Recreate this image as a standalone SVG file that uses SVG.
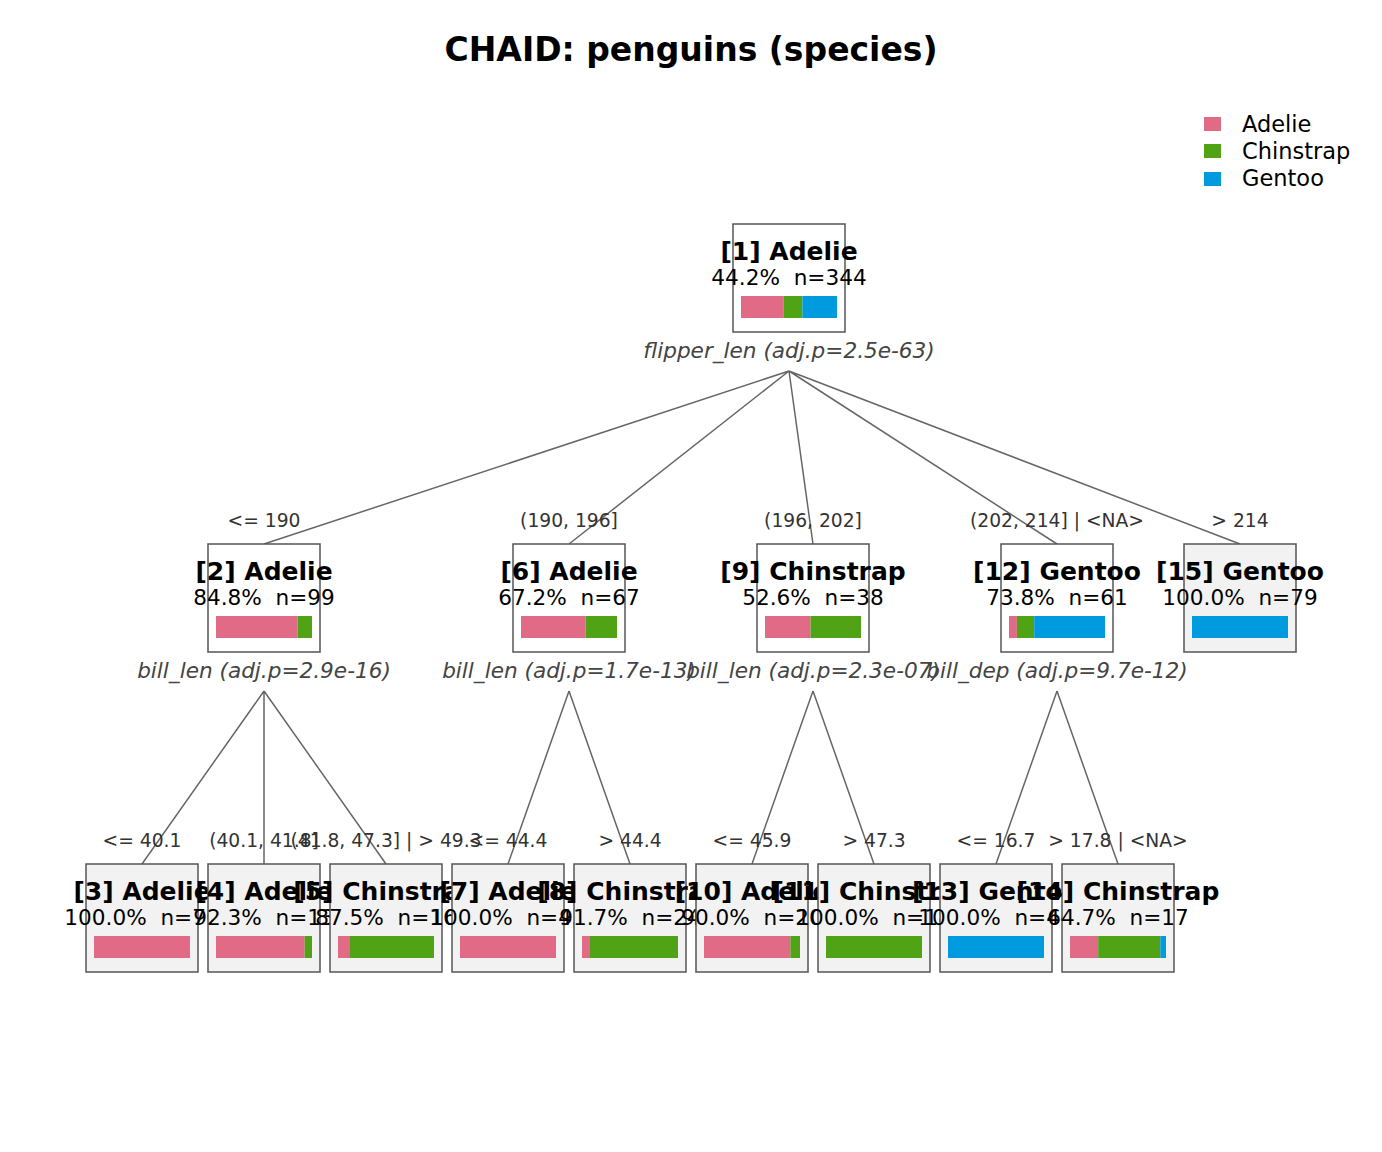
<svg xmlns="http://www.w3.org/2000/svg" width="1382" height="1152" viewBox="0 0 1382 1152">
<style>
text{font-family:"DejaVu Sans","Liberation Sans",sans-serif}
.ttl{font-size:33px;font-weight:bold;fill:#000;text-anchor:middle}
.nt{font-size:25px;font-weight:bold;fill:#000;text-anchor:middle}
.ns{font-size:21.6px;fill:#000;text-anchor:middle;white-space:pre}
.sp{font-size:21.6px;font-style:italic;fill:#444;text-anchor:middle}
.el{font-size:18.7px;fill:#333;text-anchor:middle}
.lg{font-size:22.5px;fill:#000}
.inner{fill:#fff;stroke:#555;stroke-width:1.5}
.term{fill:#f2f2f2;stroke:#555;stroke-width:1.5}
.a{fill:#E16A86}.c{fill:#50A315}.g{fill:#009ADE}
.edge{stroke:#666;stroke-width:1.5;fill:none}
</style>
<rect width="1382" height="1152" fill="#fff"/>
<text class="ttl" x="691" y="61">CHAID: penguins (species)</text>
<g id="legend">
<rect class="a" x="1204" y="117" width="17" height="14"/>
<text class="lg" x="1242" y="132">Adelie</text>
<rect class="c" x="1204" y="144" width="17" height="14"/>
<text class="lg" x="1242" y="159">Chinstrap</text>
<rect class="g" x="1204" y="172" width="17" height="14"/>
<text class="lg" x="1242" y="186">Gentoo</text>
</g>
<g id="connectors">
<path class="edge" d="M789,371L264,544M789,371L569,544M789,371L813,544M789,371L1057,544M789,371L1240,544"/>
<path class="edge" d="M264,691L142,864M264,691L264,864M264,691L386,864"/>
<path class="edge" d="M569,691L508,864M569,691L630,864"/>
<path class="edge" d="M813,691L752,864M813,691L874,864"/>
<path class="edge" d="M1057,691L996,864M1057,691L1118,864"/>
<text class="el" x="264" y="527">&lt;= 190</text>
<text class="el" x="569" y="527">(190, 196]</text>
<text class="el" x="813" y="527">(196, 202]</text>
<text class="el" x="1057" y="527">(202, 214] | &lt;NA&gt;</text>
<text class="el" x="1240" y="527">&gt; 214</text>
<text class="el" x="142" y="847">&lt;= 40.1</text>
<text class="el" x="264" y="847">(40.1, 41.8]</text>
<text class="el" x="386" y="847">(41.8, 47.3] | &gt; 49.3</text>
<text class="el" x="508" y="847">&lt;= 44.4</text>
<text class="el" x="630" y="847">&gt; 44.4</text>
<text class="el" x="752" y="847">&lt;= 45.9</text>
<text class="el" x="874" y="847">&gt; 47.3</text>
<text class="el" x="996" y="847">&lt;= 16.7</text>
<text class="el" x="1118" y="847">&gt; 17.8 | &lt;NA&gt;</text>
</g>
<g id="node1">
<rect class="inner" x="733" y="224" width="112" height="108"/>
<text class="nt" x="789" y="260">[1] Adelie</text>
<text class="ns" x="789" y="285">44.2%  n=344</text>
<rect class="a" x="741" y="296" width="42.4" height="22"/><rect class="c" x="783.4" y="296" width="19" height="22"/><rect class="g" x="802.4" y="296" width="34.6" height="22"/>
<text class="sp" x="789" y="358">flipper_len (adj.p=2.5e-63)</text>
</g>
<g id="node2">
<rect class="inner" x="208" y="544" width="112" height="108"/>
<text class="nt" x="264" y="580">[2] Adelie</text>
<text class="ns" x="264" y="605">84.8%  n=99</text>
<rect class="a" x="216" y="616" width="81.5" height="22"/><rect class="c" x="297.5" y="616" width="14.5" height="22"/>
<text class="sp" x="264" y="678">bill_len (adj.p=2.9e-16)</text>
</g>
<g id="node6">
<rect class="inner" x="513" y="544" width="112" height="108"/>
<text class="nt" x="569" y="580">[6] Adelie</text>
<text class="ns" x="569" y="605">67.2%  n=67</text>
<rect class="a" x="521" y="616" width="64.5" height="22"/><rect class="c" x="585.5" y="616" width="31.5" height="22"/>
<text class="sp" x="569" y="678">bill_len (adj.p=1.7e-13)</text>
</g>
<g id="node9">
<rect class="inner" x="757" y="544" width="112" height="108"/>
<text class="nt" x="813" y="580">[9] Chinstrap</text>
<text class="ns" x="813" y="605">52.6%  n=38</text>
<rect class="a" x="765" y="616" width="45.5" height="22"/><rect class="c" x="810.5" y="616" width="50.5" height="22"/>
<text class="sp" x="813" y="678">bill_len (adj.p=2.3e-07)</text>
</g>
<g id="node12">
<rect class="inner" x="1001" y="544" width="112" height="108"/>
<text class="nt" x="1057" y="580">[12] Gentoo</text>
<text class="ns" x="1057" y="605">73.8%  n=61</text>
<rect class="a" x="1009" y="616" width="7.9" height="22"/><rect class="c" x="1016.9" y="616" width="17.3" height="22"/><rect class="g" x="1034.2" y="616" width="70.8" height="22"/>
<text class="sp" x="1057" y="678">bill_dep (adj.p=9.7e-12)</text>
</g>
<g id="node15">
<rect class="term" x="1184" y="544" width="112" height="108"/>
<text class="nt" x="1240" y="580">[15] Gentoo</text>
<text class="ns" x="1240" y="605">100.0%  n=79</text>
<rect class="g" x="1192" y="616" width="96" height="22"/>
</g>
<g id="node3">
<rect class="term" x="86" y="864" width="112" height="108"/>
<text class="nt" x="142" y="900">[3] Adelie</text>
<text class="ns" x="142" y="925">100.0%  n=70</text>
<rect class="a" x="94" y="936" width="96" height="22"/>
</g>
<g id="node4">
<rect class="term" x="208" y="864" width="112" height="108"/>
<text class="nt" x="264" y="900">[4] Adelie</text>
<text class="ns" x="264" y="925">92.3%  n=13</text>
<rect class="a" x="216" y="936" width="88.6" height="22"/><rect class="c" x="304.6" y="936" width="7.4" height="22"/>
</g>
<g id="node5">
<rect class="term" x="330" y="864" width="112" height="108"/>
<text class="nt" x="386" y="900">[5] Chinstrap</text>
<text class="ns" x="386" y="925">87.5%  n=16</text>
<rect class="a" x="338" y="936" width="12" height="22"/><rect class="c" x="350" y="936" width="84" height="22"/>
</g>
<g id="node7">
<rect class="term" x="452" y="864" width="112" height="108"/>
<text class="nt" x="508" y="900">[7] Adelie</text>
<text class="ns" x="508" y="925">100.0%  n=43</text>
<rect class="a" x="460" y="936" width="96" height="22"/>
</g>
<g id="node8">
<rect class="term" x="574" y="864" width="112" height="108"/>
<text class="nt" x="630" y="900">[8] Chinstrap</text>
<text class="ns" x="630" y="925">91.7%  n=24</text>
<rect class="a" x="582" y="936" width="8" height="22"/><rect class="c" x="590" y="936" width="88" height="22"/>
</g>
<g id="node10">
<rect class="term" x="696" y="864" width="112" height="108"/>
<text class="nt" x="752" y="900">[10] Adelie</text>
<text class="ns" x="752" y="925">90.0%  n=20</text>
<rect class="a" x="704" y="936" width="86.4" height="22"/><rect class="c" x="790.4" y="936" width="9.6" height="22"/>
</g>
<g id="node11">
<rect class="term" x="818" y="864" width="112" height="108"/>
<text class="nt" x="874" y="900">[11] Chinstrap</text>
<text class="ns" x="874" y="925">100.0%  n=18</text>
<rect class="c" x="826" y="936" width="96" height="22"/>
</g>
<g id="node13">
<rect class="term" x="940" y="864" width="112" height="108"/>
<text class="nt" x="996" y="900">[13] Gentoo</text>
<text class="ns" x="996" y="925">100.0%  n=44</text>
<rect class="g" x="948" y="936" width="96" height="22"/>
</g>
<g id="node14">
<rect class="term" x="1062" y="864" width="112" height="108"/>
<text class="nt" x="1118" y="900">[14] Chinstrap</text>
<text class="ns" x="1118" y="925">64.7%  n=17</text>
<rect class="a" x="1070" y="936" width="28.2" height="22"/><rect class="c" x="1098.2" y="936" width="62.1" height="22"/><rect class="g" x="1160.3" y="936" width="5.7" height="22"/>
</g>
</svg>
